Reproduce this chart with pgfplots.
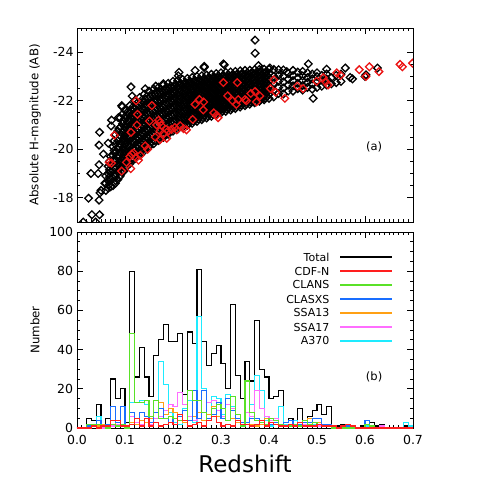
\documentclass[border=0pt]{standalone}
\usepackage{fontspec}
\setmainfont{DejaVu Sans}
\usepackage{pgfplots}
\usepackage{pgfplotstable}
\pgfplotsset{compat=1.18}

\definecolor{cdfn}{RGB}{255,30,30}
\definecolor{clans}{RGB}{90,225,40}
\definecolor{clasxs}{RGB}{25,110,255}
\definecolor{ssaA}{RGB}{255,160,20}
\definecolor{ssaB}{RGB}{255,110,255}
\definecolor{aclus}{RGB}{30,235,255}
\definecolor{ptred}{RGB}{235,20,20}

% dense part of the magnitude-redshift cloud: one row per redshift column
\pgfplotstableread{
z a b c d e f g h
0.060 -18.30 -18.60 -18.90 nan nan nan nan nan
0.065 -18.40 -18.70 -19.00 -19.30 nan nan nan nan
0.0675 -18.55 -18.85 -19.15 -19.50 nan nan nan nan
0.070 -18.45 -18.75 -19.05 -19.35 -19.70 nan nan nan
0.075 -18.50 -18.80 -19.10 -19.40 -19.75 -20.10 nan nan
0.0775 -18.65 -18.95 -19.25 -19.60 -19.95 -20.35 nan nan
0.080 -18.60 -18.90 -19.20 -19.50 -19.85 -20.20 -20.60 nan
0.085 -18.75 -19.05 -19.35 -19.65 -20.00 -20.35 -20.75 nan
0.0875 -18.85 -19.15 -19.45 -19.75 -20.10 -20.45 -20.85 nan
0.090 -18.90 -19.20 -19.50 -19.85 -20.20 -20.55 -20.90 -21.30
0.095 -19.05 -19.35 -19.65 -20.00 -20.35 -20.70 -21.05 -21.45
0.0975 -19.10 -19.45 -19.80 -20.10 -20.45 -20.80 -21.15 nan
0.100 -19.20 -19.54 -19.89 -20.23 -20.57 -20.91 -21.26 -21.60
0.1025 -19.34 -19.68 -20.02 -20.37 -20.71 -21.05 -21.40 nan
0.105 -19.47 -19.81 -20.16 -20.50 -20.84 -21.19 -21.53 nan
0.110 -19.40 -19.75 -20.08 -20.45 -20.77 -21.12 -21.47 -21.80
0.1125 -19.54 -19.88 -20.22 -20.57 -20.91 -21.25 -21.60 nan
0.115 -19.66 -20.02 -20.34 -20.70 -21.03 -21.38 -21.72 nan
0.120 -19.60 -19.96 -20.28 -20.63 -20.97 -21.32 -21.65 -22.00
0.1225 -19.73 -20.07 -20.41 -20.75 -21.09 -21.43 -21.77 nan
0.125 -19.85 -20.18 -20.53 -20.86 -21.21 -21.55 -21.90 nan
0.130 -19.77 -20.11 -20.44 -20.79 -21.12 -21.46 -21.80 -22.13
0.1325 -19.89 -20.23 -20.57 -20.90 -21.24 -21.58 -21.91 nan
0.135 -20.02 -20.35 -20.69 -21.03 -21.36 -21.70 -22.03 nan
0.140 -19.93 -20.27 -20.60 -20.94 -21.27 -21.60 -21.94 -22.27
0.1425 -20.06 -20.39 -20.72 -21.05 -21.38 -21.72 -22.05 nan
0.145 -20.18 -20.51 -20.84 -21.18 -21.51 -21.84 -22.17 nan
0.150 -20.10 -20.43 -20.76 -21.09 -21.41 -21.74 -22.07 -22.40
0.1525 -20.22 -20.55 -20.87 -21.20 -21.52 -21.85 -22.17 nan
0.155 -20.33 -20.65 -20.98 -21.30 -21.63 -21.95 -22.28 nan
0.160 -20.23 -20.55 -20.87 -21.19 -21.52 -21.84 -22.16 -22.48
0.1625 -20.36 -20.68 -21.00 -21.31 -21.63 -21.95 -22.26 nan
0.165 -20.46 -20.78 -21.09 -21.41 -21.73 -22.05 -22.36 nan
0.170 -20.36 -20.67 -20.99 -21.30 -21.61 -21.93 -22.24 -22.56
0.1725 -20.49 -20.80 -21.11 -21.42 -21.73 -22.04 -22.35 nan
0.175 -20.58 -20.89 -21.20 -21.51 -21.82 -22.13 -22.44 nan
0.180 -20.49 -20.80 -21.10 -21.41 -21.72 -22.03 -22.33 -22.64
0.1825 -20.60 -20.90 -21.21 -21.52 -21.82 -22.13 -22.43 nan
0.185 -20.71 -21.01 -21.31 -21.62 -21.92 -22.22 -22.53 nan
0.190 -20.62 -20.92 -21.22 -21.52 -21.82 -22.12 -22.42 -22.72
0.1925 -20.72 -21.02 -21.32 -21.62 -21.92 -22.22 -22.52 nan
0.195 -20.84 -21.13 -21.43 -21.72 -22.02 -22.32 -22.61 nan
0.200 -20.75 -21.04 -21.34 -21.63 -21.92 -22.21 -22.51 -22.80
0.2025 -20.84 -21.13 -21.43 -21.72 -22.01 -22.30 -22.59 nan
0.205 -20.94 -21.23 -21.52 -21.81 -22.10 -22.39 -22.68 nan
0.210 -20.83 -21.12 -21.40 -21.69 -21.98 -22.27 -22.55 -22.84
0.2125 -20.92 -21.21 -21.49 -21.78 -22.06 -22.35 -22.64 nan
0.215 -21.01 -21.30 -21.58 -21.87 -22.15 -22.43 -22.72 nan
0.220 -20.91 -21.19 -21.47 -21.75 -22.04 -22.32 -22.60 -22.88
0.2225 -21.00 -21.28 -21.56 -21.84 -22.12 -22.40 -22.68 nan
0.225 -21.09 -21.37 -21.65 -21.93 -22.20 -22.48 -22.76 nan
0.230 -20.99 -21.27 -21.54 -21.82 -22.09 -22.37 -22.64 -22.92
0.2325 -21.08 -21.35 -21.62 -21.90 -22.17 -22.45 -22.72 nan
0.235 -21.17 -21.44 -21.71 -21.98 -22.26 -22.53 -22.80 nan
0.240 -21.07 -21.34 -21.61 -21.88 -22.15 -22.42 -22.69 -22.96
0.2425 -21.16 -21.43 -21.69 -21.96 -22.23 -22.50 -22.77 nan
0.245 -21.24 -21.51 -21.78 -22.04 -22.31 -22.58 -22.85 nan
0.250 -21.15 -21.41 -21.68 -21.94 -22.21 -22.47 -22.74 -23.00
0.2525 -21.24 -21.50 -21.76 -22.02 -22.29 -22.55 -22.81 nan
0.255 -21.32 -21.58 -21.84 -22.10 -22.36 -22.62 -22.89 nan
0.260 -21.22 -21.48 -21.74 -22.00 -22.25 -22.51 -22.77 -23.03
0.2625 -21.30 -21.56 -21.82 -22.07 -22.33 -22.59 -22.84 nan
0.265 -21.39 -21.64 -21.90 -22.15 -22.41 -22.66 -22.92 nan
0.270 -21.29 -21.54 -21.80 -22.05 -22.30 -22.55 -22.81 -23.06
0.2725 -21.37 -21.62 -21.88 -22.13 -22.38 -22.63 -22.88 nan
0.275 -21.45 -21.70 -21.95 -22.20 -22.45 -22.70 -22.95 nan
0.280 -21.36 -21.61 -21.85 -22.10 -22.35 -22.60 -22.84 -23.09
0.2825 -21.44 -21.68 -21.93 -22.18 -22.42 -22.67 -22.91 nan
0.285 -21.52 -21.77 -22.01 -22.25 -22.50 -22.74 -22.99 nan
0.290 -21.43 -21.67 -21.91 -22.15 -22.40 -22.64 -22.88 -23.12
0.2925 -21.51 -21.75 -21.99 -22.23 -22.47 -22.71 -22.95 nan
0.295 -21.59 -21.83 -22.07 -22.30 -22.54 -22.78 -23.02 nan
0.300 -21.50 -21.74 -21.97 -22.21 -22.44 -22.68 -22.91 -23.15
0.3025 -21.58 -21.81 -22.04 -22.28 -22.51 -22.75 -22.98 nan
0.305 -21.65 -21.88 -22.11 -22.35 -22.58 -22.81 -23.04 nan
0.310 -21.56 -21.79 -22.02 -22.25 -22.48 -22.71 -22.94 -23.17
0.3125 -21.64 -21.86 -22.09 -22.32 -22.55 -22.78 -23.01 nan
0.315 -21.70 -21.93 -22.16 -22.38 -22.61 -22.84 -23.07 nan
0.320 -21.62 -21.84 -22.07 -22.29 -22.52 -22.74 -22.97 -23.19
0.3225 -21.70 -21.92 -22.14 -22.36 -22.59 -22.81 -23.03 nan
0.325 -21.76 -21.98 -22.20 -22.42 -22.65 -22.87 -23.09 nan
0.330 -21.68 -21.90 -22.12 -22.34 -22.55 -22.77 -22.99 -23.21
0.3325 -21.75 -21.97 -22.19 -22.40 -22.62 -22.84 -23.06 nan
0.335 -21.82 -22.03 -22.25 -22.46 -22.68 -22.90 -23.11 nan
0.340 -21.74 -21.95 -22.17 -22.38 -22.59 -22.80 -23.02 -23.23
0.3425 -21.81 -22.02 -22.23 -22.44 -22.66 -22.87 -23.08 nan
0.345 -21.87 -22.08 -22.29 -22.50 -22.71 -22.92 -23.13 nan
0.350 -21.80 -22.01 -22.21 -22.42 -22.63 -22.84 -23.04 -23.25
0.3525 -21.87 -22.07 -22.28 -22.48 -22.68 -22.89 -23.09 nan
0.355 -21.93 -22.13 -22.34 -22.54 -22.74 -22.95 -23.15 nan
0.360 -21.86 -22.06 -22.26 -22.46 -22.66 -22.86 -23.06 -23.26
0.3625 -21.93 -22.13 -22.33 -22.52 -22.72 -22.92 -23.12 nan
0.365 -21.99 -22.19 -22.38 -22.58 -22.78 -22.97 -23.17 nan
0.370 -21.92 -22.11 -22.31 -22.50 -22.69 -22.89 -23.08 -23.28
0.3725 -21.99 -22.18 -22.37 -22.56 -22.75 -22.94 -23.13 nan
0.375 -22.05 -22.24 -22.43 -22.62 -22.81 -23.00 -23.19 nan
0.380 -21.98 -22.17 -22.35 -22.54 -22.73 -22.91 -23.10 -23.29
0.3825 -22.05 -22.23 -22.41 -22.60 -22.78 -22.97 -23.15 nan
0.385 -22.10 -22.28 -22.47 -22.65 -22.83 -23.02 -23.20 nan
0.390 -22.04 -22.22 -22.40 -22.58 -22.76 -22.94 -23.12 -23.30
0.3925 -22.10 -22.28 -22.46 -22.64 -22.81 -22.99 -23.17 nan
0.395 -22.16 -22.33 -22.51 -22.69 -22.86 -23.04 -23.21 nan
0.400 -22.10 -22.27 -22.44 -22.61 -22.79 -22.96 -23.13 -23.30
0.410 -22.16 -22.44 -22.72 -23.01 -23.29 nan nan nan
0.420 -22.30 -22.55 -22.80 -23.05 -23.28 nan nan nan
0.430 -22.28 -22.53 -22.78 -23.02 -23.27 nan nan nan
0.440 -22.40 -22.64 -22.88 -23.12 nan nan nan nan
0.450 -22.40 -22.61 -22.83 -23.04 -23.25 nan nan nan
0.460 -22.50 -22.72 -22.95 -23.18 nan nan nan nan
0.470 -22.44 -22.63 -22.83 -23.02 -23.21 nan nan nan
0.480 -22.55 -22.75 -22.95 -23.15 nan nan nan nan
0.490 -22.48 -22.70 -22.90 -23.10 nan nan nan nan
0.500 -22.55 -22.78 -23.00 -23.15 nan nan nan nan
0.510 -22.60 -22.85 -23.05 nan nan nan nan nan
0.520 -22.65 -22.90 -23.10 nan nan nan nan nan
0.530 -22.70 -22.95 nan nan nan nan nan nan
0.540 -22.75 -23.05 nan nan nan nan nan nan
0.550 -22.80 -23.10 nan nan nan nan nan nan
}\densepts

% scattered black points outside the dense band
\pgfplotstableread{
z m
0.013 -17.00
0.024 -17.98
0.031 -17.30
0.029 -19.00
0.039 -17.00
0.044 -19.00
0.046 -19.36
0.046 -20.17
0.047 -20.70
0.046 -17.90
0.047 -17.30
0.048 -18.20
0.050 -18.30
0.055 -19.80
0.058 -18.60
0.065 -20.25
0.071 -20.96
0.072 -21.20
0.086 -21.30
0.093 -21.80
0.094 -21.75
0.1125 -22.57
0.115 -22.19
0.142 -22.49
0.164 -22.60
0.180 -22.70
0.2125 -23.17
0.211 -23.03
0.246 -23.25
0.265 -23.37
0.265 -23.42
0.307 -23.48
0.305 -23.52
0.371 -24.50
0.371 -23.96
0.378 -23.45
0.402 -23.35
0.437 -23.20
0.482 -23.52
0.492 -22.10
0.520 -23.30
0.559 -23.35
0.569 -22.96
0.574 -22.90
0.602 -23.07
0.600 -23.00
0.626 -23.35
}\outpts

% red points
\pgfplotstableread{
z m
0.067 -19.46
0.072 -19.43
0.078 -20.58
0.093 -19.10
0.103 -19.46
0.112 -19.20
0.110 -19.70
0.114 -19.80
0.118 -19.85
0.123 -19.65
0.128 -19.55
0.132 -19.75
0.1125 -20.70
0.123 -22.00
0.126 -21.44
0.125 -21.00
0.142 -20.14
0.147 -20.00
0.151 -21.16
0.156 -21.80
0.166 -21.00
0.173 -21.10
0.176 -20.98
0.170 -21.20
0.173 -20.75
0.180 -20.65
0.186 -20.82
0.190 -20.76
0.197 -20.82
0.204 -20.90
0.208 -20.80
0.215 -20.97
0.222 -20.85
0.228 -20.80
0.187 -20.45
0.163 -20.50
0.173 -20.40
0.241 -21.23
0.246 -21.85
0.255 -22.05
0.264 -21.95
0.263 -21.62
0.285 -21.50
0.291 -21.40
0.294 -21.30
0.305 -22.75
0.314 -22.20
0.324 -22.00
0.332 -21.85
0.336 -22.05
0.334 -22.75
0.350 -22.05
0.353 -22.00
0.362 -22.30
0.371 -22.38
0.374 -21.95
0.381 -22.20
0.410 -22.86
0.403 -22.50
0.414 -22.35
0.433 -22.10
0.459 -22.60
0.471 -22.50
0.499 -22.80
0.513 -22.95
0.518 -22.78
0.523 -22.65
0.541 -23.15
0.549 -23.05
0.588 -23.28
0.609 -23.40
0.602 -23.00
0.629 -23.20
0.673 -23.50
0.678 -23.40
0.699 -23.55
}\redpts

% histograms: left bin edge, Total, CDF-N, CLANS, CLASXS, SSA13, SSA17, A370
\pgfplotstableread{
z T R G B O M C
0.00 0 0 0 0 0 0 0
0.01 0 0 0 0 0 0 0
0.02 5 0 2 1 0 0 2
0.03 4 1 2 1 1 1 1
0.04 12 0 2 4 1 1 6
0.05 2 1 1 1 2 0 1
0.06 5 1 0 2 1 1 1
0.07 25 4 2 11 2 1 2
0.08 15 4 1 3 3 2 3
0.09 20 1 2 11 1 1 2
0.10 3 1 0 1 0 1 0
0.11 80 2 48 8 3 6 13
0.12 26 5 13 5 2 3 13
0.13 41 1 13 8 4 2 14
0.14 26 5 14 6 3 3 12
0.15 16 1 6 3 5 2 6
0.16 37 3 14 8 8 5 14
0.17 45 1 5 10 13 6 34
0.18 53 2 5 5 7 9 22
0.19 44 3 6 3 10 12 8
0.20 44 2 5 5 8 11 3
0.21 48 7 4 6 6 18 2
0.22 17 4 4 9 3 12 10
0.23 49 1 19 4 4 6 14
0.24 43 2 14 19 6 4 3
0.25 81 3 14 5 8 8 57
0.26 44 1 8 19 4 8 20
0.27 32 4 4 5 7 13 5
0.28 38 6 10 7 11 14 16
0.29 42 3 12 13 6 9 15
0.30 33 1 10 5 5 6 7
0.31 20 2 4 15 4 12 17
0.32 63 1 16 9 5 10 11
0.33 27 4 7 5 3 4 5
0.34 15 2 1 3 2 3 3
0.35 34 2 24 3 3 8 3
0.36 24 1 8 5 2 6 12
0.37 55 2 4 5 1 19 27
0.38 30 4 3 3 2 10 19
0.39 26 1 2 1 5 6 4
0.40 15 3 5 2 3 4 1
0.41 16 2 4 3 2 5 3
0.42 19 1 2 2 2 2 11
0.43 3 1 1 3 1 1 2
0.44 5 2 1 4 2 1 1
0.45 2 1 2 2 1 1 4
0.46 10 3 1 2 3 1 2
0.47 4 1 4 3 4 2 3
0.48 6 1 2 3 5 1 2
0.49 9 1 3 5 3 1 2
0.50 12 2 2 5 3 1 3
0.51 7 1 1 2 2 1 2
0.52 11 1 1 2 2 1 1
0.53 0 1 0 1 1 0 0
0.54 1 0 0 0 0 0 0
0.55 2 1 0 0 1 0 1
0.56 2 2 0 1 0 0 0
0.57 1 1 0 0 0 0 0
0.58 0 0 0 0 0 0 0
0.59 1 0 0 0 0 0 0
0.60 4 0 2 4 0 0 1
0.61 3 0 1 1 0 0 0
0.62 1 0 0 0 0 0 0
0.63 2 0 0 0 0 1 0
0.64 0 0 0 0 0 0 0
0.65 0 0 0 0 0 0 0
0.66 0 0 0 0 0 0 0
0.67 0 0 0 0 0 0 0
0.68 1 0 0 0 0 0 3
0.69 1 0 0 0 0 0 1
0.70 1 0 0 0 0 0 1
}\hist

\pgfplotsset{
  panel/.style={
    scale only axis, width=336pt, anchor=south west,
    xmin=0, xmax=0.7, xtick={0,0.1,...,0.7}, minor x tick num=9,
    tick align=inside, major tick length=6pt, minor tick length=3pt,
    axis line style={line width=0.9pt}, every tick/.style={line width=0.8pt, black},
    /pgf/number format/assume math mode=true,
    tick label style={font=\fontsize{12.5}{14}\selectfont},
    label style={font=\fontsize{11.8}{14}\selectfont},
  },
  diam/.style={only marks, mark=square, mark size=2.7pt, mark options={rotate=45, line width=1.3pt}},
}
\newcommand{\legrow}[3]{%
  \draw[#2, line width=1.3pt] (axis cs:0.548,#3) -- (axis cs:0.656,#3);
  \node[anchor=east, font=\fontsize{11}{13}\selectfont, inner sep=0pt] at (axis cs:0.527,#3) {#1};
}

\begin{document}
\begin{tikzpicture}
\useasboundingbox (0pt,0pt) rectangle (491pt,491pt);

\begin{axis}[panel, at={(77pt,269pt)}, height=194pt,
  y dir=reverse, ymin=-25, ymax=-17, ytick={-24,-22,-20,-18}, minor y tick num=3,
  xticklabels={},
  ylabel={Absolute H-magnitude (AB)},
  ylabel style={at={(axis description cs:-0.125,0.5)}, anchor=center},
  clip marker paths=true,
]
\pgfplotsinvokeforeach{a,b,c,d,e,f,g,h}{
  \addplot[diam, black] table[x=z, y=#1] {\densepts};
}
\addplot[diam, black] table[x=z, y=m] {\outpts};
\addplot[diam, ptred] table[x=z, y=m] {\redpts};
\node[font=\fontsize{11.5}{13}\selectfont] at (axis cs:0.619,-20.1) {(a)};
\end{axis}

\begin{axis}[panel, at={(77pt,63pt)}, height=196pt,
  ymin=0, ymax=100, ytick={0,20,...,100}, minor y tick num=3,
  xticklabel style={yshift=-3pt, /pgf/number format/.cd, fixed, fixed zerofill, precision=1},
  xlabel={Redshift},
  xlabel style={font=\fontsize{23}{26}\selectfont, at={(axis description cs:0.5,0)}, anchor=base, yshift=-45pt},
  ylabel={Number},
  ylabel style={at={(axis description cs:-0.125,0.5)}, anchor=center},
  const plot mark left, line width=1.1pt,
]
\addplot[black, no marks] table[x=z, y=T] {\hist};
\addplot[aclus, no marks] table[x=z, y=C] {\hist};
\addplot[ssaB, no marks] table[x=z, y=M] {\hist};
\addplot[ssaA, no marks] table[x=z, y=O] {\hist};
\addplot[clasxs, no marks] table[x=z, y=B] {\hist};
\addplot[clans, no marks] table[x=z, y=G] {\hist};
\addplot[cdfn, no marks] table[x=z, y=R] {\hist};
% legend: text on the left, line on the right
\legrow{Total}{black}{87.2}
\legrow{CDF-N}{cdfn}{80.1}
\legrow{CLANS}{clans}{73.0}
\legrow{CLASXS}{clasxs}{65.8}
\legrow{SSA13}{ssaA}{58.7}
\legrow{SSA17}{ssaB}{51.5}
\legrow{A370}{aclus}{44.4}
\node[font=\fontsize{11.5}{13}\selectfont] at (axis cs:0.619,26) {(b)};
\end{axis}
\end{tikzpicture}
\end{document}
